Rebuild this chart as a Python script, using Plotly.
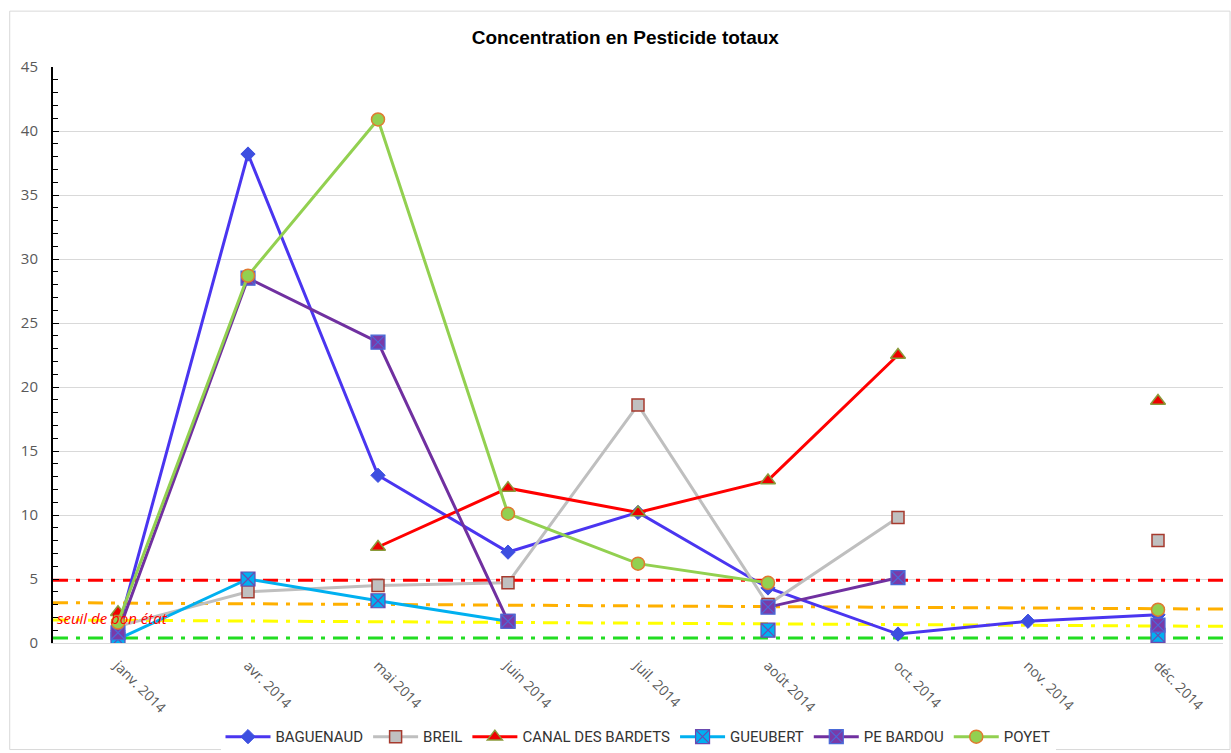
import plotly.graph_objects as go

categories = ["janv. 2014", "avr. 2014", "mai 2014", "juin 2014", "juil. 2014",
              "août 2014", "oct. 2014", "nov. 2014", "déc. 2014"]

baguenaud = [1.0, 38.2, 13.1, 7.1, 10.2, 4.3, 0.7, 1.7, 2.2]
breil = [1.3, 4.0, 4.5, 4.7, 18.6, 3.0, 9.8, None, 8.0]
canal = [2.4, None, 7.5, 12.1, 10.2, 12.7, 22.5, None, 18.9]
gueubert = [0.3, 5.0, 3.3, 1.7, None, 1.0, None, None, 0.6]
pe_bardou = [0.8, 28.5, 23.5, 1.7, None, 2.8, 5.1, None, 1.4]
poyet = [1.6, 28.7, 40.9, 10.1, 6.2, 4.7, None, None, 2.6]

# reference thresholds (start value, end value) across the full axis
seuil_rouge = [4.9, 4.9]
seuil_orange = [3.15, 2.65]
seuil_jaune = [1.8, 1.3]
seuil_vert = [0.4, 0.4]

xs = list(range(len(categories)))
x_ends = [-0.5, len(categories) - 0.5]

fig = go.Figure()

dash_style = "15px,8px,4px,8px"
for vals, col in [(seuil_rouge, "#FF0000"), (seuil_orange, "#FFB000"),
                  (seuil_jaune, "#FFFF00"), (seuil_vert, "#22DD22")]:
    fig.add_trace(go.Scatter(x=x_ends, y=vals, mode="lines",
                             line=dict(color=col, width=3, dash=dash_style),
                             showlegend=False, hoverinfo="skip"))

series = [
    ("BAGUENAUD", baguenaud, "#4A35F0", dict(symbol="diamond", size=11, color="#3D4FE0", line=dict(color="#3D4FE0", width=1))),
    ("BREIL", breil, "#BFBFBF", dict(symbol="square", size=12, color="#C0C0C0", line=dict(color="#A63A2E", width=1.5))),
    ("CANAL DES BARDETS", canal, "#FF0000", dict(symbol="triangle-up", size=13, color="#EE0000", line=dict(color="#8A9A3A", width=1.5))),
    ("GUEUBERT", gueubert, "#00B0F0", dict(symbol="square-x", size=14, color="#00B0F0", line=dict(color="#6A4AB0", width=1.2))),
    ("PE BARDOU", pe_bardou, "#7030A0", dict(symbol="square-x", size=14, color="#7A3AA8", line=dict(color="#4A6AD8", width=1.2))),
    ("POYET", poyet, "#92D050", dict(symbol="circle", size=13, color="#92D050", line=dict(color="#E07A30", width=1.5))),
]

for name, vals, col, mk in series:
    fig.add_trace(go.Scatter(x=xs, y=vals, mode="lines+markers", name=name,
                             line=dict(color=col, width=3), marker=mk,
                             connectgaps=False))

fig.add_annotation(x=-0.5, y=seuil_jaune[0], xref="x", yref="y", text="<i>seuil de bon état</i>",
                   showarrow=False, xanchor="left", yanchor="middle", xshift=2, yshift=2,
                   font=dict(family="Open Sans, Liberation Sans", size=15, color="#FF0000"))

fig.add_shape(type="rect", xref="paper", yref="paper", x0=-0.037, x1=1.006, y0=-0.185, y1=1.097,
              line=dict(color="#D9D9D9", width=1), fillcolor="rgba(0,0,0,0)", layer="below")

fig.update_layout(
    width=1231, height=753,
    margin=dict(l=53, r=8, t=67, b=110, autoexpand=False),
    paper_bgcolor="white", plot_bgcolor="white",
    title=dict(text="<b>Concentration en Pesticide totaux</b>", x=0.508, xanchor="center",
               y=0.951, yanchor="middle",
               font=dict(family="Liberation Sans, Arial", size=19, color="#000000")),
    showlegend=True,
    legend=dict(orientation="h", x=0.5, xanchor="center", y=-0.163, yanchor="middle",
                font=dict(family="Liberation Sans Narrow, Arial Narrow, Roboto, Liberation Sans", size=15, color="#333333"),
                itemwidth=45, traceorder="normal"),
    font=dict(family="Open Sans, Liberation Sans", color="#595959"),
)

fig.update_xaxes(range=x_ends, tickmode="array", tickvals=xs, ticktext=categories,
                 tickangle=45, showgrid=False, zeroline=False, showline=True, automargin=False,
                 linecolor="#D9D9D9", linewidth=1, ticks="", ticklabelstandoff=8,
                 tickfont=dict(family="Open Sans, Liberation Sans", size=14, color="#595959"))

fig.update_yaxes(range=[0, 45], dtick=5, showgrid=True, gridcolor="#D9D9D9", gridwidth=1,
                 zeroline=False, showline=True, linecolor="#000000", linewidth=2, automargin=False,
                 ticks="inside", ticklen=6, tickcolor="#000000", ticklabelstandoff=10,
                 minor=dict(dtick=1, ticks="inside", ticklen=5, tickcolor="#000000", showgrid=False),
                 tickfont=dict(family="Open Sans, Liberation Sans", size=15, color="#595959"))

fig.write_html("out.html")
